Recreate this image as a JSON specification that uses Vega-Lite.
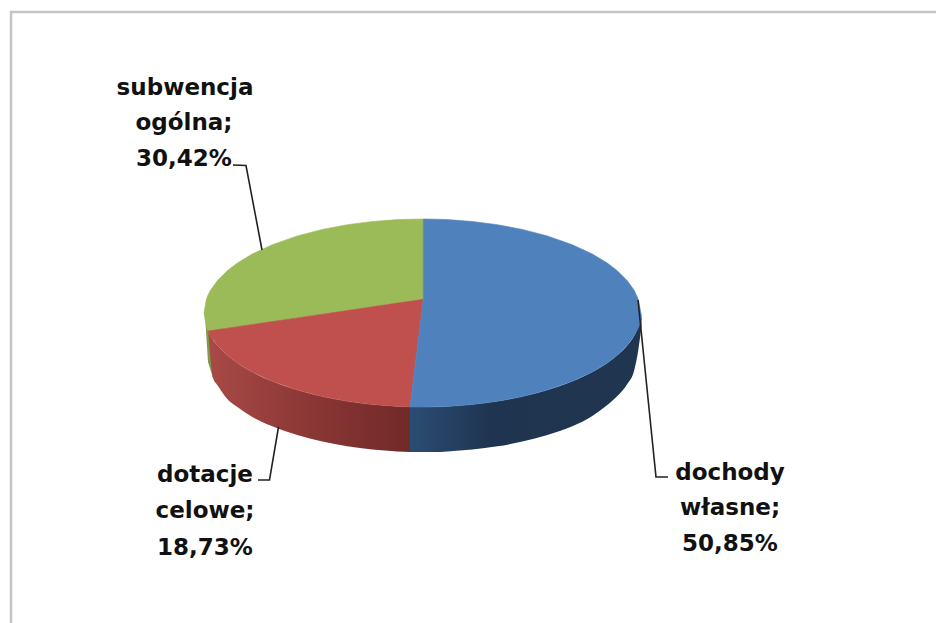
{"$schema":"https://vega.github.io/schema/vega-lite/v6.json","width":936,"height":623,"autosize":{"type":"fit","contains":"padding"},"padding":0,"background":"white","view":{"stroke":null},
"datasets":{
"frame":[{"x":936,"y":12},{"x":11,"y":12},{"x":11,"y":623}],
"wallGreen":[{"x":205.5,"y":322,"y2":323},{"x":208,"y":330,"y2":362},{"x":213,"y":331,"y2":378}],
"wallRed":[{"x":208.5,"y":333,"y2":335},{"x":213,"y":340,"y2":378},{"x":217.3,"y":345.3,"y2":385},{"x":227.3,"y":355.3,"y2":399},{"x":237.3,"y":362.9,"y2":407},{"x":252.3,"y":372,"y2":417},{"x":272.3,"y":381.3,"y2":426.3},{"x":297.3,"y":390.1,"y2":435},{"x":322.3,"y":396.6,"y2":441.6},{"x":347.3,"y":401.3,"y2":446.3},{"x":372.3,"y":404.5,"y2":449.5},{"x":397.3,"y":406.4,"y2":451.4},{"x":410,"y":406.9,"y2":452}],
"wallBlue":[{"x":410,"y":406.9,"y2":452},{"x":434.3,"y":406.85,"y2":452},{"x":447.3,"y":406.4,"y2":451.4},{"x":472.3,"y":404.5,"y2":449.5},{"x":497.3,"y":401.3,"y2":446.3},{"x":522.3,"y":396.6,"y2":441.6},{"x":547.3,"y":390.1,"y2":435},{"x":572.3,"y":381.3,"y2":426.3},{"x":592.3,"y":372,"y2":416},{"x":607.3,"y":362.9,"y2":405},{"x":617.3,"y":355.3,"y2":396},{"x":627.3,"y":345.3,"y2":384},{"x":634.3,"y":335.4,"y2":370},{"x":638.3,"y":326.6,"y2":350},{"x":641.5,"y":318,"y2":326}],
"faces":[
{"s":"subwencja ogólna","x":204,"y":313,"y2":313},{"s":"subwencja ogólna","x":206.3,"y":299.4,"y2":326.6},{"s":"subwencja ogólna","x":208,"y":295.1,"y2":331},{"s":"subwencja ogólna","x":210.3,"y":290.6,"y2":330.7},{"s":"subwencja ogólna","x":217.3,"y":280.7,"y2":329.6},{"s":"subwencja ogólna","x":227.3,"y":270.7,"y2":328.2},{"s":"subwencja ogólna","x":237.3,"y":263.1,"y2":326.7},{"s":"subwencja ogólna","x":252.3,"y":254,"y2":324.5},{"s":"subwencja ogólna","x":272.3,"y":244.7,"y2":321.5},{"s":"subwencja ogólna","x":297.3,"y":235.9,"y2":317.9},{"s":"subwencja ogólna","x":322.3,"y":229.4,"y2":314.2},{"s":"subwencja ogólna","x":347.3,"y":224.7,"y2":310.5},{"s":"subwencja ogólna","x":372.3,"y":221.5,"y2":306.8},{"s":"subwencja ogólna","x":397.3,"y":219.6,"y2":303.1},{"s":"subwencja ogólna","x":410.3,"y":219.2,"y2":301.2},{"s":"subwencja ogólna","x":423.3,"y":219,"y2":299.3},
{"s":"dotacje celowe","x":208,"y":331,"y2":331},{"s":"dotacje celowe","x":210.3,"y":330.7,"y2":335.4},{"s":"dotacje celowe","x":217.3,"y":329.6,"y2":345.3},{"s":"dotacje celowe","x":227.3,"y":328.2,"y2":355.3},{"s":"dotacje celowe","x":237.3,"y":326.7,"y2":362.9},{"s":"dotacje celowe","x":252.3,"y":324.5,"y2":372},{"s":"dotacje celowe","x":272.3,"y":321.5,"y2":381.3},{"s":"dotacje celowe","x":297.3,"y":317.9,"y2":390.1},{"s":"dotacje celowe","x":322.3,"y":314.2,"y2":396.6},{"s":"dotacje celowe","x":347.3,"y":310.5,"y2":401.3},{"s":"dotacje celowe","x":372.3,"y":306.8,"y2":404.5},{"s":"dotacje celowe","x":397.3,"y":303.1,"y2":406.4},{"s":"dotacje celowe","x":410,"y":301.3,"y2":406.9},{"s":"dotacje celowe","x":423.3,"y":299.3,"y2":299.3},
{"s":"dochody własne","x":410,"y":406.9,"y2":406.9},{"s":"dochody własne","x":423.3,"y":299.3,"y2":407},{"s":"dochody własne","x":423.35,"y":219,"y2":407},{"s":"dochody własne","x":434.3,"y":219.15,"y2":406.85},{"s":"dochody własne","x":447.3,"y":219.6,"y2":406.4},{"s":"dochody własne","x":472.3,"y":221.5,"y2":404.5},{"s":"dochody własne","x":497.3,"y":224.7,"y2":401.3},{"s":"dochody własne","x":522.3,"y":229.4,"y2":396.6},{"s":"dochody własne","x":547.3,"y":235.9,"y2":390.1},{"s":"dochody własne","x":572.3,"y":244.7,"y2":381.3},{"s":"dochody własne","x":592.3,"y":254,"y2":372},{"s":"dochody własne","x":607.3,"y":263.1,"y2":362.9},{"s":"dochody własne","x":617.3,"y":270.7,"y2":355.3},{"s":"dochody własne","x":627.3,"y":280.7,"y2":345.3},{"s":"dochody własne","x":634.3,"y":290.6,"y2":335.4},{"s":"dochody własne","x":638.3,"y":299.4,"y2":328},{"s":"dochody własne","x":641.5,"y":316,"y2":320}],
"leaders":[
{"s":"a","o":1,"x":233,"y":165},{"s":"a","o":2,"x":246,"y":165.5},{"s":"a","o":3,"x":262,"y":250},
{"s":"b","o":1,"x":668,"y":477},{"s":"b","o":2,"x":656,"y":477},{"s":"b","o":3,"x":638,"y":300},
{"s":"c","o":1,"x":258,"y":480},{"s":"c","o":2,"x":269.5,"y":480},{"s":"c","o":3,"x":278.5,"y":427}],
"labels":[
{"t":"subwencja","x":185,"y":95},{"t":"ogólna;","x":184,"y":130},{"t":"30,42%","x":184,"y":166},
{"t":"dochody","x":730,"y":480},{"t":"własne;","x":730,"y":515},{"t":"50,85%","x":730,"y":551},
{"t":"dotacje","x":205,"y":482},{"t":"celowe;","x":205,"y":518},{"t":"18,73%","x":205,"y":555}]
},
"encoding":{"x":{"field":"x","type":"quantitative","scale":{"domain":[0,936],"nice":false,"zero":false},"axis":null},"y":{"field":"y","type":"quantitative","scale":{"domain":[623,0],"nice":false,"zero":false},"axis":null}},
"layer":[
{"data":{"name":"frame"},"mark":{"type":"line","stroke":"#c4c4c4","strokeWidth":2.5,"clip":true},"encoding":{"order":{"field":"y"}}},
{"data":{"name":"wallGreen"},"mark":{"type":"area","color":"#7f9a48"},"encoding":{"y2":{"field":"y2"}}},
{"data":{"name":"wallRed"},"mark":{"type":"area","interpolate":"monotone","color":{"gradient":"linear","x1":0,"y1":0,"x2":1,"y2":0,"stops":[{"offset":0,"color":"#a84a47"},{"offset":0.5,"color":"#8b3735"},{"offset":1,"color":"#702a28"}]}},"encoding":{"y2":{"field":"y2"}}},
{"data":{"name":"wallBlue"},"mark":{"type":"area","interpolate":"monotone","color":{"gradient":"linear","x1":0,"y1":0,"x2":1,"y2":0,"stops":[{"offset":0,"color":"#2b4d73"},{"offset":0.35,"color":"#1f3450"},{"offset":1,"color":"#20364f"}]}},"encoding":{"y2":{"field":"y2"}}},
{"data":{"name":"faces"},"mark":{"type":"area","strokeWidth":0.6},"encoding":{"y2":{"field":"y2"},"color":{"field":"s","type":"nominal","legend":null,"scale":{"domain":["dochody własne","dotacje celowe","subwencja ogólna"],"range":["#4f81bd","#c0504d","#9bbb59"]}},"stroke":{"field":"s","type":"nominal","legend":null,"scale":{"domain":["dochody własne","dotacje celowe","subwencja ogólna"],"range":["#4f81bd","#c0504d","#9bbb59"]}}}},
{"data":{"name":"leaders"},"mark":{"type":"line","stroke":"#222222","strokeWidth":1.6},"encoding":{"detail":{"field":"s"},"order":{"field":"o"}}},
{"data":{"name":"labels"},"mark":{"type":"text","font":"DejaVu Sans","fontWeight":"bold","fontSize":23,"color":"#111111","align":"center","baseline":"alphabetic"},"encoding":{"text":{"field":"t"}}}
]}
